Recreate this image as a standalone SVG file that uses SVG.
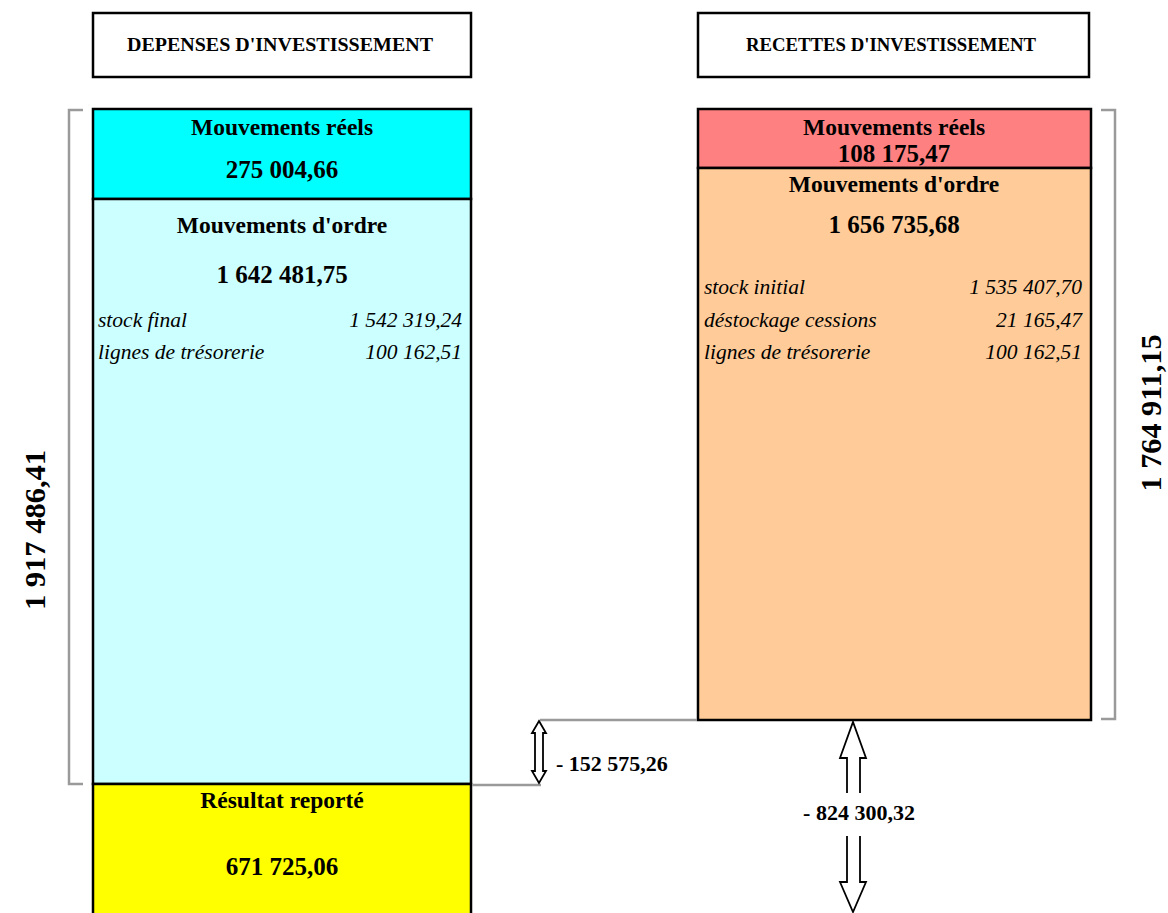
<svg xmlns="http://www.w3.org/2000/svg" width="1168" height="913" viewBox="0 0 1168 913">
<style>
.b{stroke:#000;stroke-width:2.5}
.t{font-family:"Liberation Serif","Times New Roman",serif;font-weight:bold;fill:#000}
.i{font-family:"Liberation Serif","Times New Roman",serif;font-style:italic;font-size:21.5px;fill:#000}
.g{fill:none;stroke:#9a9a9a;stroke-width:2.5}
.a{fill:#fff;stroke:#000;stroke-width:1.8;stroke-linejoin:miter}
</style>
<rect width="1168" height="913" fill="#fff"/>
<g id="hdr-dep">
<rect x="93" y="13" width="378" height="64" fill="#fff" class="b"/>
<text class="t" x="280" y="51" font-size="19" text-anchor="middle" textLength="306" lengthAdjust="spacingAndGlyphs">DEPENSES D'INVESTISSEMENT</text>
</g>
<g id="hdr-rec">
<rect x="698" y="13" width="391" height="64" fill="#fff" class="b"/>
<text class="t" x="891" y="51" font-size="19" text-anchor="middle" textLength="290" lengthAdjust="spacingAndGlyphs">RECETTES D'INVESTISSEMENT</text>
</g>
<g id="dep-reels">
<rect x="93" y="109" width="378" height="90" fill="#00FFFF" class="b"/>
<text class="t" x="282" y="135" font-size="23.5" text-anchor="middle">Mouvements réels</text>
<text class="t" x="282" y="178" font-size="25" text-anchor="middle">275 004,66</text>
</g>
<g id="dep-ordre">
<rect x="93" y="199" width="378" height="585" fill="#CCFFFF" class="b"/>
<text class="t" x="282" y="233" font-size="23.5" text-anchor="middle">Mouvements d'ordre</text>
<text class="t" x="282" y="283" font-size="25" text-anchor="middle">1 642 481,75</text>
<text class="i" x="98" y="327">stock final</text>
<text class="i" x="462" y="327" text-anchor="end">1 542 319,24</text>
<text class="i" x="98" y="359">lignes de trésorerie</text>
<text class="i" x="462" y="359" text-anchor="end">100 162,51</text>
</g>
<g id="dep-resultat">
<path d="M93,915 V784 H471 V915" fill="#FFFF00" class="b"/>
<text class="t" x="282" y="808" font-size="23.5" text-anchor="middle">Résultat reporté</text>
<text class="t" x="282" y="875" font-size="25" text-anchor="middle">671 725,06</text>
</g>
<g id="rec-reels">
<rect x="698" y="109" width="393" height="59" fill="#FF8080" class="b"/>
<text class="t" x="894" y="135" font-size="23.5" text-anchor="middle">Mouvements réels</text>
<text class="t" x="894" y="162" font-size="25" text-anchor="middle">108 175,47</text>
</g>
<g id="rec-ordre">
<rect x="698" y="168" width="393" height="552" fill="#FFCC99" class="b"/>
<text class="t" x="894" y="192" font-size="23.5" text-anchor="middle">Mouvements d'ordre</text>
<text class="t" x="894" y="233" font-size="25" text-anchor="middle">1 656 735,68</text>
<text class="i" x="704" y="294">stock initial</text>
<text class="i" x="1082" y="294" text-anchor="end">1 535 407,70</text>
<text class="i" x="704" y="327">déstockage cessions</text>
<text class="i" x="1082" y="327" text-anchor="end">21 165,47</text>
<text class="i" x="704" y="359">lignes de trésorerie</text>
<text class="i" x="1082" y="359" text-anchor="end">100 162,51</text>
</g>
<g id="total-dep">
<path class="g" d="M83,110 H69 V784 H83"/>
<text class="t" font-size="30" text-anchor="middle" transform="translate(45,530) rotate(-90)" textLength="160" lengthAdjust="spacingAndGlyphs">1 917 486,41</text>
</g>
<g id="total-rec">
<path class="g" d="M1101,110 H1115 V719 H1101"/>
<text class="t" font-size="30" text-anchor="middle" transform="translate(1161,413) rotate(-90)" textLength="157" lengthAdjust="spacingAndGlyphs">1 764 911,15</text>
</g>
<g id="connectors">
<path class="g" d="M472,785 H541"/>
<path class="g" d="M540,720 H697"/>
<path class="a" d="M539,721 L546,733 H543 V771 H546 L539,783 L532,771 H535 V733 H532 Z"/>
<path class="a" d="M860,793 V758 H866 L853,722 L840,758 H847 V793"/>
<path class="a" d="M847,836 V882 H840 L853,912 L866,882 H860 V836"/>
</g>
<g id="labels">
<text class="t" x="556" y="771" font-size="22">- 152 575,26</text>
<text class="t" x="859" y="820" font-size="22" text-anchor="middle">- 824 300,32</text>
</g>
</svg>
